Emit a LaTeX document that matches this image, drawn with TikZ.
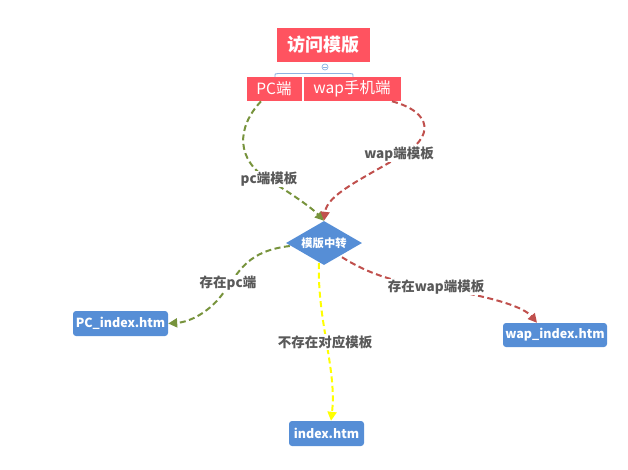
\documentclass[tikz,border=0pt]{standalone}
\usepackage{fontspec}
\setmainfont{Noto Sans CJK SC}
\usetikzlibrary{shapes.geometric,arrows.meta}
\definecolor{boxred}{HTML}{FF5360}
\definecolor{boxblue}{HTML}{568ED6}
\definecolor{lgreen}{HTML}{77933C}
\definecolor{lred}{HTML}{C0504D}
\definecolor{lyellow}{HTML}{FFFF00}
\definecolor{labgray}{HTML}{595959}
\definecolor{brblue}{HTML}{8DB3E2}
\tikzset{
  redbox/.style={fill=boxred, text=white, inner sep=0pt, draw=white, line width=0.6pt},
  leaf/.style={fill=boxblue, text=white, rounded corners=3pt, inner sep=0pt, font=\bfseries\fontsize{12.5}{14}\selectfont},
  conn/.style={dashed, dash pattern=on 6pt off 3.5pt, line width=2pt, -{Triangle[length=9pt,width=9pt]}},
  lab/.style={fill=white, text=labgray, inner sep=1pt, font=\bfseries\fontsize{13.5}{15}\selectfont}
}
\begin{document}
\begin{tikzpicture}[x=1pt,y=-1pt]
\useasboundingbox (0,0) rectangle (628,469);
% top
\node[redbox, minimum width=94pt, minimum height=35pt, font=\bfseries\fontsize{18}{20}\selectfont] (root) at (323,44.5) {访问模版};
\node[redbox, minimum width=56pt, minimum height=25pt, font=\fontsize{15.5}{17}\selectfont] (pc) at (274,88.5) {PC端};
\node[redbox, minimum width=98pt, minimum height=25pt, font=\fontsize{15.5}{17}\selectfont] (wap) at (352,88.5) {wap手机端};
% bracket with collapse circle
\node[circle, draw=brblue, line width=0.7pt, minimum size=6pt, inner sep=0pt] (fold) at (325,67) {};
\draw[brblue, line width=0.7pt] (fold.west) ++(1,0) -- ++(4,0);
\draw[brblue, line width=0.9pt] (275,77) .. controls (275,73.5) .. (278,73.5) -- (350,73.5) .. controls (353,73.5) .. (353,77);
% diamond
\node[diamond, aspect=2, fill=boxblue, text=white, inner sep=0pt, minimum width=76pt, minimum height=44pt, font=\bfseries\fontsize{11.3}{13}\selectfont] (hub) at (324,243) {模版中转};
% leaves
\node[leaf, minimum width=95pt, minimum height=25pt] (pcidx) at (120.5,323.5) {PC\_index.htm};
\node[leaf, minimum width=104pt, minimum height=24pt] (wapidx) at (555,335) {wap\_index.htm};
\node[leaf, minimum width=75pt, minimum height=25pt] (idx) at (326.5,433.5) {index.htm};
% connectors
\draw[conn, lgreen] ([xshift=-13pt]pc.south) .. controls (236,128) and (236,160) .. (269,180) .. controls (292,194) and (312,208) .. (hub.north);
\draw[conn, lred] ([xshift=40pt]wap.south) .. controls (432,112) and (436,137) .. (399,157) .. controls (360,180) and (327,195) .. (hub.north);
\draw[conn, lgreen] ([xshift=4pt,yshift=-3pt]hub.west) .. controls (248,251) and (240,270) .. (224,292) .. controls (210,312) and (190,322) .. (pcidx.east);
\draw[conn, lyellow] ([xshift=-5pt,yshift=2pt]hub.south) .. controls (317,320) and (337,370) .. ([xshift=4.5pt]idx.north);
\draw[conn, lred] ([xshift=18pt,yshift=8pt]hub.south) .. controls (372,276) and (400,283) .. (436,288) .. controls (482,295) and (522,305) .. ([xshift=-18pt]wapidx.north);
% labels
\node[lab] (l1) at (269,179) {pc端模板};
\node[lab] (l2) at (399,154) {wap端模板};
\node[lab] (l3) at (228,283) {存在pc端};
\node[lab] (l4) at (436,287) {存在wap端模板};
\node[lab] (l5) at (325,342) {不存在对应模板};
\end{tikzpicture}
\end{document}
